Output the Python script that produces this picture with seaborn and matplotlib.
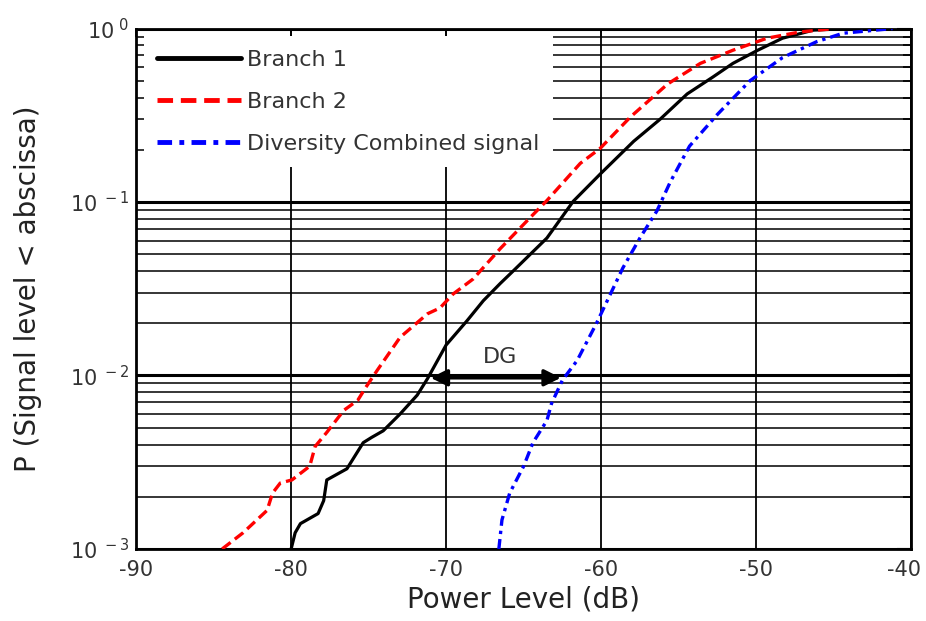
import math
import matplotlib
matplotlib.use("Agg")
import matplotlib.pyplot as plt
import matplotlib.ticker as mticker
import matplotlib.transforms as mtransforms
import pandas as pd
import seaborn as sns

# values (x in dB, y = cumulative probability)
branch1_x = [-80.0, -79.74, -79.4, -78.26, -77.9, -77.7, -76.4, -75.35, -74.8, -74.06,
             -72.97, -71.87, -71.2, -70.0, -68.65, -67.6, -66.5, -65.68, -63.5, -61.8,
             -60.06, -57.9, -56.2, -54.45, -52.8, -51.5, -49.9, -48.3, -46.3, -44.0]
branch1_y = [0.001, 0.00124, 0.0014, 0.0016, 0.0019, 0.0025, 0.0029, 0.0041, 0.0044, 0.0048,
             0.006, 0.0077, 0.0096, 0.0150, 0.0207, 0.027, 0.034, 0.040, 0.062, 0.101,
             0.145, 0.224, 0.30, 0.42, 0.525, 0.63, 0.75, 0.88, 0.98, 1.0]

branch2_x = [-84.45, -83.1, -81.55, -81.2, -80.7, -79.95, -78.8, -78.45, -77.7, -76.6,
             -75.7, -75.2, -74.45, -72.97, -71.2, -70.4, -69.55, -68.26, -66.5, -64.6,
             -63.5, -61.35, -60.06, -58.1, -55.7, -53.6, -51.5, -49.3, -47.2, -45.0]
branch2_y = [0.001, 0.00124, 0.00167, 0.0021, 0.0024, 0.0025, 0.003, 0.0039, 0.0047, 0.0063,
             0.0072, 0.0085, 0.0107, 0.0166, 0.0227, 0.0245, 0.0295, 0.036, 0.054, 0.081,
             0.102, 0.167, 0.204, 0.31, 0.48, 0.63, 0.75, 0.88, 0.955, 1.0]

div_x = [-66.6, -66.4, -65.9, -65.0, -64.4, -63.5, -63.2, -62.5, -61.55, -60.3, -59.4,
         -58.6, -57.5, -56.4, -55.55, -54.3, -52.5, -50.4, -48.3, -46.1, -44.4, -41.2]
div_y = [0.001, 0.00147, 0.0021, 0.0030, 0.0041, 0.0055, 0.0069, 0.0094, 0.0122, 0.020, 0.0295,
         0.0417, 0.062, 0.089, 0.13, 0.21, 0.32, 0.50, 0.68, 0.84, 0.94, 1.0]

labels = ['Branch 1', 'Branch 2', 'Diversity Combined signal']
x_ticks = [-90, -80, -70, -60, -50, -40]
dg_x = [-71.0, -62.6]   # diversity gain arrow ends
dg_y = 0.0097

sns.set_style('white')
plt.rcParams['font.family'] = ['DejaVu Sans']
plt.rcParams['axes.unicode_minus'] = False
plt.rcParams['mathtext.default'] = 'regular'

fig = plt.figure(figsize=(9.26, 6.21), dpi=100)
ax = fig.add_axes([0.147, 0.116, 0.837, 0.838])

series = [(branch1_x, branch1_y, 'black', '-', 2.3),
          (branch2_x, branch2_y, 'red', (0, (3.2, 1.6)), 2.4),
          (div_x, div_y, 'blue', (0, (3, 1.5, 1, 1.5)), 2.4)]
for (xs, ys, col, ls, lw), lab in zip(series, labels):
    df = pd.DataFrame({'x': xs, 'y': ys})
    sns.lineplot(data=df, x='x', y='y', ax=ax, color=col, linestyle=ls, linewidth=lw,
                 estimator=None, sort=False, label=lab, zorder=3)

ax.set_yscale('log')
ax.set_xlim(-90, -40)
ax.set_ylim(1e-3, 1)
ax.set_xticks(x_ticks)
ax.xaxis.set_major_formatter(mticker.FormatStrFormatter('%d'))
ax.yaxis.set_major_locator(mticker.LogLocator(base=10, numticks=10))
ax.yaxis.set_major_formatter(mticker.FuncFormatter(
    lambda v, p: r'$10^{\ %d}$' % round(math.log10(v))))
ax.yaxis.set_minor_locator(mticker.LogLocator(base=10, subs=range(2, 10), numticks=20))
ax.yaxis.set_minor_formatter(mticker.NullFormatter())

ax.grid(True, which='major', axis='both', color='black', linewidth=1.3)
ax.grid(True, which='major', axis='y', color='black', linewidth=2.2)
ax.grid(True, which='minor', axis='y', color='black', linewidth=1.1)
for s in ax.spines.values():
    s.set_color('black')
    s.set_linewidth(2)

ax.tick_params(axis='both', which='both', direction='in', top=True, right=True,
               colors='black', labelsize=15, labelcolor='#333333')
ax.tick_params(axis='y', which='major', length=10, width=1.5, pad=5)
ax.tick_params(axis='y', which='minor', length=6, width=1.2)
ax.tick_params(axis='x', which='major', length=6, width=1.2, pad=8)

ax.set_xlabel('Power Level (dB)', fontsize=20, color='#222222', labelpad=4)
ax.set_ylabel('P (Signal level < abscissa)', fontsize=20, color='#222222', labelpad=20)

# keep the last x tick label inside the figure
fig.canvas.draw()
last = ax.get_xticklabels()[-1]
last.set_transform(last.get_transform() +
                   mtransforms.ScaledTranslation(-5 / 72, 0, fig.dpi_scale_trans))

# diversity gain arrow
ax.annotate('', xy=(dg_x[0], dg_y), xytext=(dg_x[1], dg_y),
            arrowprops=dict(arrowstyle='<|-|>', color='black', lw=2.5,
                            mutation_scale=25, shrinkA=0, shrinkB=0), zorder=4)
ax.text(sum(dg_x) / 2 + 0.3, 0.0127, 'DG', fontsize=16, color='#333333',
        ha='center', va='center')

leg = ax.legend(loc='upper left', frameon=True, fontsize=16, handlelength=3.75,
                handletextpad=0.3, labelspacing=1.0, borderaxespad=0.35,
                borderpad=0.6, fancybox=False)
leg.get_frame().set_edgecolor('none')
leg.get_frame().set_facecolor('white')
leg.get_frame().set_alpha(1)
for t in leg.get_texts():
    t.set_color('#333333')
for h in leg.get_lines():
    h.set_linewidth(3.5)

fig.savefig('out.png', dpi=100, facecolor='white')
